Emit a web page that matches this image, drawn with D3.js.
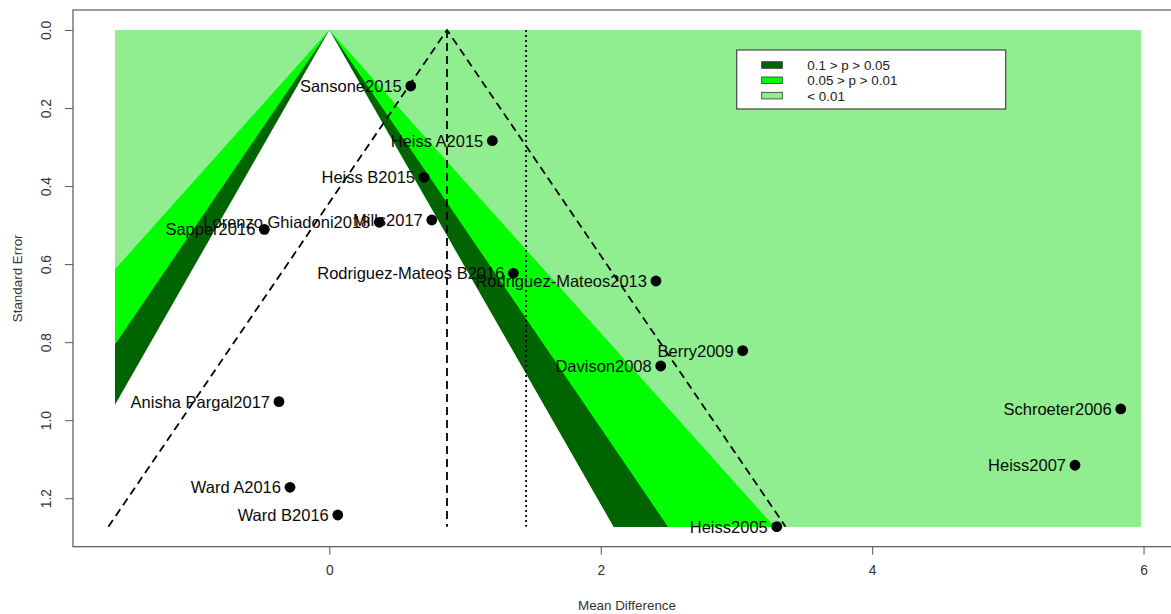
<!DOCTYPE html>
<html>
<head>
<meta charset="utf-8">
<script src="https://cdn.jsdelivr.net/npm/d3@7"></script>
<style>
  html, body { margin: 0; padding: 0; background: #fff; }
  svg { display: block; font-family: "Liberation Sans", Arial, sans-serif; }
</style>
</head>
<body>
<svg id="chart" width="1171" height="614"></svg>
<script>
// ---- data ----
const studies = ["Sansone2015", "Heiss A2015", "Heiss B2015", "Sapper2016", "Lorenzo Ghiadoni2018",
  "Mills2017", "Rodriguez-Mateos B2016", "Rodriguez-Mateos2013", "Berry2009", "Davison2008",
  "Anisha Pargal2017", "Ward A2016", "Ward B2016", "Schroeter2006", "Heiss2007", "Heiss2005"];
const meanDiff = [0.600, 1.201, 0.698, -0.479, 0.368, 0.755, 1.356, 2.407, 3.046, 2.442,
  -0.371, -0.290, 0.062, 5.832, 5.495, 3.297];
const stdErr = [0.1435, 0.2837, 0.3775, 0.5108, 0.4928, 0.4869, 0.6235, 0.6433, 0.8219, 0.8611,
  0.9526, 1.172, 1.243, 0.9713, 1.1156, 1.273];
const pooledEstimate = 0.867;
const refLine2 = 1.45;
const shadeXRange = [-1.579, 5.98];
const contourZ = [2.576, 1.96, 1.645];          // p = 0.01, 0.05, 0.10
const contourColors = ["#00FF00", "#006400", "#FFFFFF"];
const legendLabels = ["0.1 > p > 0.05", "0.05 > p > 0.01", "< 0.01"];
const legendColors = ["#006400", "#00FF00", "#90EE90"];
const xTicks = [0, 2, 4, 6];
const yTicks = [0, 0.2, 0.4, 0.6, 0.8, 1.0, 1.2];

// ---- layout ----
const svg = d3.select("#chart");
const pLeft = 73, pRight = 1181, pTop = 10, pBottom = 546.7;
const x = d3.scaleLinear().domain([-1.889, 6.276]).range([pLeft, pRight]);
const y = d3.scaleLinear().domain([-0.0513, 1.3243]).range([pTop, pBottom]);
const seMax = d3.max(stdErr);
const seExt = seMax + 0.03; // polygons extend past the clip edge to avoid seams

// shaded region, snapped to whole pixels
const sx0 = Math.round(x(shadeXRange[0])), sx1 = Math.round(x(shadeXRange[1]));
const sy0 = Math.round(y(0)), sy1 = Math.round(y(seMax));

svg.append("clipPath").attr("id", "shadeClip")
  .append("rect")
  .attr("x", sx0).attr("y", sy0).attr("width", sx1 - sx0).attr("height", sy1 - sy0);

const shade = svg.append("g").attr("clip-path", "url(#shadeClip)");
shade.append("rect")
  .attr("x", sx0 - 2).attr("y", sy0 - 2).attr("width", sx1 - sx0 + 4).attr("height", sy1 - sy0 + 4)
  .attr("fill", "#90EE90");

const line = d3.line().x(d => x(d[0])).y(d => y(d[1]));
contourZ.forEach((z, i) => {
  shade.append("path")
    .attr("d", line([[0, 0], [-z * seExt, seExt], [z * seExt, seExt]]) + "Z")
    .attr("fill", contourColors[i]);
});

// reference lines
svg.append("path")
  .attr("d", line([[pooledEstimate, 0], [pooledEstimate, seMax]]))
  .attr("stroke", "#000").attr("stroke-width", 1.8).attr("stroke-dasharray", "8,5").attr("fill", "none");
svg.append("path")
  .attr("d", line([[refLine2, 0], [refLine2, seMax]]))
  .attr("stroke", "#000").attr("stroke-width", 1.8).attr("stroke-dasharray", "2,3").attr("fill", "none");
svg.append("path")
  .attr("d", line([[pooledEstimate - 1.96 * seMax, seMax], [pooledEstimate, 0], [pooledEstimate + 1.96 * seMax, seMax]]))
  .attr("stroke", "#000").attr("stroke-width", 1.8).attr("stroke-dasharray", "8,5").attr("fill", "none");

// points
const data = studies.map((s, i) => ({ name: s, md: meanDiff[i], se: stdErr[i] }));
svg.append("g").selectAll("circle").data(data).join("circle")
  .attr("cx", d => x(d.md)).attr("cy", d => y(d.se)).attr("r", 5.4).attr("fill", "#000");

// labels
svg.append("g").selectAll("text").data(data).join("text")
  .attr("x", d => x(d.md) - 9).attr("y", d => y(d.se))
  .attr("text-anchor", "end").attr("dominant-baseline", "central")
  .attr("font-size", 16.5).attr("fill", "#0a0a0a")
  .text(d => d.name);

// box
svg.append("rect").attr("x", pLeft).attr("y", pTop)
  .attr("width", pRight - pLeft).attr("height", pBottom - pTop)
  .attr("fill", "none").attr("stroke", "#555").attr("stroke-width", 1.2);

// x axis
const gx = svg.append("g").attr("transform", `translate(0,${pBottom})`)
  .call(d3.axisBottom(x).tickValues(xTicks).tickSize(8).tickPadding(11).tickFormat(d3.format("d")));
gx.select(".domain").remove();
gx.selectAll("line").attr("stroke", "#555");
gx.selectAll("text").attr("font-size", 13.8).attr("fill", "#333").attr("font-family", null);

// y axis
const gy = svg.append("g").attr("transform", `translate(${pLeft},0)`)
  .call(d3.axisLeft(y).tickValues(yTicks).tickSize(8).tickFormat(d3.format(".1f")));
gy.select(".domain").remove();
gy.selectAll("line").attr("stroke", "#555");
gy.selectAll("text")
  .attr("transform", "rotate(-90)")
  .attr("x", 0).attr("y", -(pLeft - 46.7)).attr("dy", null)
  .attr("text-anchor", "middle").attr("dominant-baseline", "central")
  .attr("font-size", 13.8).attr("fill", "#333").attr("font-family", null);

// axis titles
svg.append("text").attr("x", (pLeft + pRight) / 2).attr("y", 605)
  .attr("text-anchor", "middle").attr("dominant-baseline", "central")
  .attr("font-size", 13.4).attr("fill", "#333").text("Mean Difference");
svg.append("text").attr("transform", `translate(17,${(pTop + pBottom) / 2}) rotate(-90)`)
  .attr("text-anchor", "middle").attr("dominant-baseline", "central")
  .attr("font-size", 13.4).attr("fill", "#333").text("Standard Error");

// legend
const lg = svg.append("g");
lg.append("rect").attr("x", 736.7).attr("y", 50).attr("width", 269).attr("height", 59)
  .attr("fill", "#fff").attr("stroke", "#444").attr("stroke-width", 1.2);
legendLabels.forEach((lab, i) => {
  const cy = 65 + i * 15.3;
  lg.append("rect").attr("x", 761.7).attr("y", cy - 3.3).attr("width", 20.6).attr("height", 6.6)
    .attr("fill", legendColors[i]).attr("stroke", "#333").attr("stroke-width", 0.8);
  lg.append("text").attr("x", 807.3).attr("y", cy + 0.5).attr("dominant-baseline", "central")
    .attr("font-size", 13.4).attr("fill", "#222").text(lab);
});
</script>
</body>
</html>
